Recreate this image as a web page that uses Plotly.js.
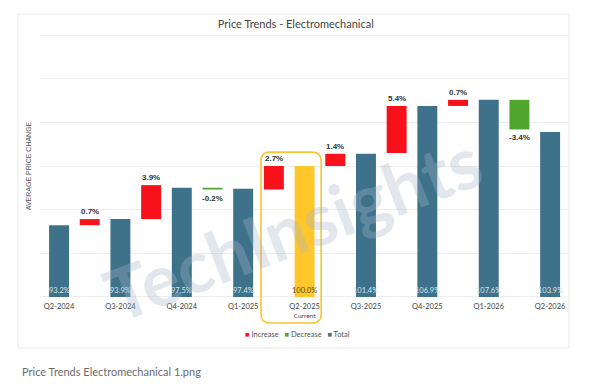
<!DOCTYPE html>
<html>
<head>
<meta charset="utf-8">
<script src="https://cdn.plot.ly/plotly-3.0.1.min.js"></script>
<style>
  html, body { margin: 0; padding: 0; background: #ffffff; }
  #chart { width: 600px; height: 390px; }
</style>
</head>
<body>
<div id="chart"></div>
<script>
// ---- Data ----
const periods = ['Q2-2024', 'Q3-2024', 'Q4-2024', 'Q1-2025', 'Q2-2025', 'Q3-2025', 'Q4-2025', 'Q1-2026', 'Q2-2026'];
const totals = [93.2, 93.9, 97.5, 97.4, 100.0, 101.4, 106.9, 107.6, 103.9];
const changes = [0.7, 3.9, -0.2, 2.7, 1.4, 5.4, 0.7, -3.4];
const changeStart = [93.2, 93.9, 97.5, 97.3, 100.0, 101.5, 106.9, 107.6];
const currentIndex = 4;
const currentNote = 'Current';
const legendNames = ['Increase', 'Decrease', 'Total'];

// ---- Styles ----
const C_TOTAL = '#3E718A';
const C_CURRENT = '#FFC72C';
const C_INC = '#F7121B';
const C_DEC = '#4EA62F';
const FONT = 'Lato, "Liberation Sans", Arial, sans-serif';
const yMin = 85, yMax = 115;

const xTot = periods.map((_, i) => 2 * i);
const xChg = changes.map((_, i) => 2 * i + 1);

const totIdx = totals.map((_, i) => i).filter(i => i !== currentIndex);
const incIdx = changes.map((_, i) => i).filter(i => changes[i] >= 0);
const decIdx = changes.map((_, i) => i).filter(i => changes[i] < 0);

const BW = 0.65;

const traces = [
  {
    type: 'bar', name: legendNames[2], showlegend: false,
    x: totIdx.map(i => xTot[i]), y: totIdx.map(i => totals[i]),
    width: BW, marker: { color: C_TOTAL }, hoverinfo: 'x+y'
  },
  {
    type: 'bar', name: periods[currentIndex], showlegend: false,
    x: [xTot[currentIndex]], y: [totals[currentIndex]],
    width: BW, marker: { color: C_CURRENT }
  },
  {
    type: 'bar', name: legendNames[0], showlegend: false,
    x: incIdx.map(i => xChg[i]), y: incIdx.map(i => changes[i]),
    base: incIdx.map(i => changeStart[i]),
    width: BW, marker: { color: C_INC }
  },
  {
    type: 'bar', name: legendNames[1], showlegend: false,
    x: decIdx.map(i => xChg[i]), y: decIdx.map(i => changes[i]),
    base: decIdx.map(i => changeStart[i]),
    width: BW, marker: { color: C_DEC }
  }
];

const annotations = [];
// Total labels at the bottom of each bar
totals.forEach((v, i) => {
  annotations.push({
    x: xTot[i], y: yMin, xref: 'x', yref: 'y', yanchor: 'bottom', yshift: 0,
    text: v.toFixed(1) + '%', showarrow: false,
    font: { family: FONT, size: 7.5, color: i === currentIndex ? '#5a4a10' : '#d6e4ec' }
  });
});
// Change labels
changes.forEach((v, i) => {
  const end = changeStart[i] + v;
  annotations.push({
    x: xChg[i], y: end, xref: 'x', yref: 'y',
    yanchor: v >= 0 ? 'bottom' : 'top', yshift: v >= 0 ? 1 : -2,
    text: '<b>' + v.toFixed(1) + '%</b>', showarrow: false,
    font: { family: '"Liberation Sans", Arial, sans-serif', size: 8, color: '#333333' }
  });
});
// Watermark
annotations.push({
  x: 7.6, y: 93.0, xref: 'x', yref: 'y', text: '<b>TechInsights</b>', showarrow: false,
  textangle: -21, font: { family: FONT, size: 72, color: 'rgba(165,182,200,0.33)' }
});
// Legend (compact, like the reference)
annotations.push({
  x: 0.488, y: -0.143, xref: 'paper', yref: 'paper', xanchor: 'center', yanchor: 'middle',
  showarrow: false,
  text: '<span style="color:' + C_INC + '">■</span> ' + legendNames[0] +
        '   <span style="color:' + C_DEC + '">■</span> ' + legendNames[1] +
        '   <span style="color:' + C_TOTAL + '">■</span> ' + legendNames[2],
  font: { family: FONT, size: 7.5, color: '#555555' }
});
// Caption below the card
annotations.push({
  x: -0.038, y: -0.284, xref: 'paper', yref: 'paper', xanchor: 'left', yanchor: 'middle',
  showarrow: false, text: 'Price Trends Electromechanical 1.png',
  font: { family: FONT, size: 11, color: '#6b6b6b' }
});

// Rounded highlight box around the current quarter
const x0 = 6.58, x1 = 8.54, y0 = -0.099, y1 = 0.553;
const rx = 9 / 30.69, ry = 9 / 262;
const boxPath = `M ${x0 + rx},${y1} L ${x1 - rx},${y1} Q ${x1},${y1} ${x1},${y1 - ry} ` +
  `L ${x1},${y0 + ry} Q ${x1},${y0} ${x1 - rx},${y0} L ${x0 + rx},${y0} ` +
  `Q ${x0},${y0} ${x0},${y0 + ry} L ${x0},${y1 - ry} Q ${x0},${y1} ${x0 + rx},${y1} Z`;

const shapes = [
  { type: 'rect', xref: 'paper', yref: 'paper', x0: -0.0417, x1: 1.0038, y0: -0.1947, y1: 1.080,
    line: { color: '#e9e9e9', width: 1 }, fillcolor: 'rgba(0,0,0,0)', layer: 'below' },
  // grid lines at the range edges (Plotly skips them)
  { type: 'line', xref: 'paper', yref: 'y', x0: 0, x1: 1, y0: yMax, y1: yMax,
    line: { color: '#ededed', width: 1 }, layer: 'below' },
  { type: 'line', xref: 'paper', yref: 'y', x0: 0, x1: 1, y0: yMin, y1: yMin,
    line: { color: '#ededed', width: 1 }, layer: 'below' },
  { type: 'path', xref: 'x', yref: 'paper', path: boxPath,
    line: { color: '#F8C530', width: 1.6 }, fillcolor: 'rgba(0,0,0,0)' }
];

const ticktext = periods.map((p, i) => i === currentIndex
  ? p + '<br><span style="font-size:6.5px">' + currentNote + '</span>' : p);

const layout = {
  width: 600, height: 390,
  margin: { l: 40, r: 33, t: 35, b: 93 },
  paper_bgcolor: '#ffffff', plot_bgcolor: '#ffffff',
  barmode: 'overlay',
  showlegend: false,
  title: {
    text: 'Price Trends - Electromechanical',
    xref: 'container', x: 0.493, xanchor: 'center',
    yref: 'container', y: 0.938, yanchor: 'middle',
    font: { family: FONT, size: 11, color: '#444444' }
  },
  xaxis: {
    range: [-0.62, 16.55], tickvals: xTot, ticktext: ticktext,
    showgrid: false, zeroline: false, showline: false, ticks: '',
    ticklabelstandoff: 3,
    tickfont: { family: FONT, size: 7.5, color: '#444444' }, fixedrange: true
  },
  yaxis: {
    range: [yMin - 0.05, yMax + 0.05], tick0: yMin, dtick: 5, showticklabels: false,
    showgrid: true, gridcolor: '#ededed', gridwidth: 1, zeroline: false, showline: false,
    title: { text: 'AVERAGE PRICE CHANGE', standoff: 6,
             font: { family: '"Liberation Sans", Arial, sans-serif', size: 7, color: '#555555' } },
    fixedrange: true
  },
  annotations: annotations,
  shapes: shapes
};

Plotly.newPlot('chart', traces, layout, { displayModeBar: false, staticPlot: true });
</script>
</body>
</html>
